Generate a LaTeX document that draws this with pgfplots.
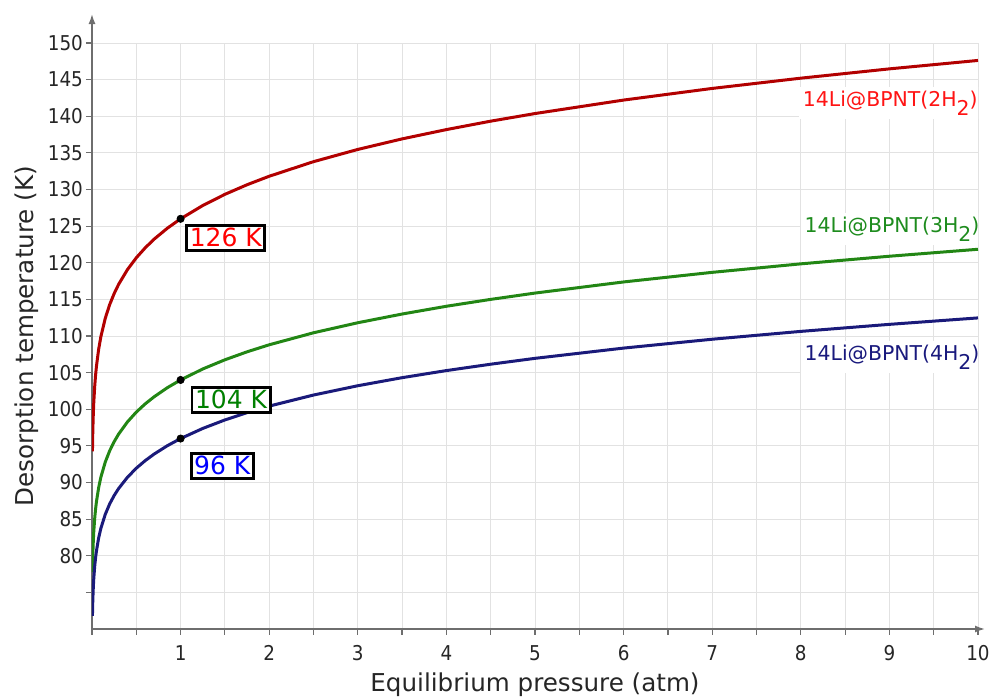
\documentclass[border=0pt]{standalone}
\usepackage{pgfplots}
\pgfplotsset{compat=1.18}
\usepackage{pgfplotstable}
\usepackage{fontspec}
\setmainfont{DejaVu Sans}
\newfontfamily\tickfont{DejaVu Sans}[FakeStretch=0.9]
\usetikzlibrary{arrows.meta}

\definecolor{curvered}{RGB}{178,0,0}
\definecolor{curvegreen}{RGB}{34,134,20}
\definecolor{curveblue}{RGB}{26,26,122}
\definecolor{lblred}{RGB}{255,20,20}
\definecolor{lblgreen}{RGB}{30,140,30}
\definecolor{lblblue}{RGB}{25,25,125}
\definecolor{gridgray}{RGB}{226,226,226}
\definecolor{axisgray}{RGB}{110,110,110}

% lowered full-size subscript digit
\newcommand{\low}[1]{\raisebox{-0.42em}{#1}}

% desorption temperature (K) vs equilibrium pressure (atm)
\pgfplotstableread{
P       Ttwo    Tthree  Tfour
0.005   94.24   77.79   71.80
0.0075  96.10   79.32   73.22
0.01    97.46   80.44   74.25
0.015   99.44   82.08   75.76
0.02    100.90  83.28   76.87
0.03    103.02  85.04   78.49
0.04    104.59  86.33   79.69
0.05    105.84  87.36   80.64
0.075   108.18  89.29   82.42
0.1     109.90  90.72   83.74
0.15    112.43  92.80   85.66
0.2     114.30  94.34   87.09
0.25    115.79  95.57   88.22
0.3     117.04  96.60   89.17
0.4     119.06  98.27   90.71
0.5     120.68  99.61   91.95
0.6     122.03  100.73  92.98
0.7     123.21  101.69  93.87
0.85    124.71  102.94  95.02
1       126.00  104.00  96.00
1.25    127.81  105.50  97.38
1.5     129.34  106.75  98.54
1.75    130.65  107.84  99.54
2       131.81  108.80  100.43
2.5     133.80  110.44  101.94
3       135.47  111.81  103.21
3.5     136.91  113.00  104.31
4       138.18  114.06  105.28
4.5     139.33  115.00  106.15
5       140.37  115.86  106.95
6       142.21  117.38  108.35
7       143.80  118.69  109.56
8       145.20  119.85  110.63
9       146.47  120.89  111.59
10      147.62  121.84  112.47
}\desorption

\begin{document}
\begin{tikzpicture}
\path[use as bounding box] (-46pt,-34pt) rectangle (453pt,314.5pt);
\begin{axis}[
  at={(0,0)}, anchor=south west,
  scale only axis, width=443pt, height=293pt,
  xmin=0, xmax=10, ymin=70, ymax=150,
  axis lines=left,
  axis line style={axisgray, line width=0.8pt, -{Latex[length=5pt,width=3.5pt]}},
  x axis line style={shorten >=-3.5pt},
  y axis line style={shorten >=-14.5pt},
  xtick={1,...,10},
  minor xtick={0,0.5,...,10},
  ytick={75,80,...,150},
  yticklabels={{},80,85,90,95,100,105,110,115,120,125,130,135,140,145,150},
  grid=both,
  major grid style={gridgray, line width=0.5pt},
  minor grid style={gridgray, line width=0.5pt},
  tick align=outside,
  major tick length=3pt, minor tick length=3pt,
  tick style={axisgray, line width=0.6pt},
  ticklabel style={font=\tickfont\fontsize{10.2}{12}\selectfont, text=black!85},
  xticklabel style={yshift=-1.8pt},
  yticklabel style={xshift=2pt},
  /pgf/number format/assume math mode=true,
  xlabel={Equilibrium pressure (atm)},
  ylabel={Desorption temperature (K)},
  label style={font=\fontsize{12.3}{14}\selectfont, text=black!85},
  xlabel style={at={(axis description cs:0.5,-0.095)}, anchor=center},
  ylabel style={at={(axis description cs:-0.074,0.5)}, anchor=center},
]
\addplot[curvered, line width=1.5pt, line join=round] table[x=P, y=Ttwo] {\desorption};
\addplot[curvegreen, line width=1.5pt, line join=round] table[x=P, y=Tthree] {\desorption};
\addplot[curveblue, line width=1.5pt, line join=round] table[x=P, y=Tfour] {\desorption};

% temperatures at 1 atm
\addplot[only marks, mark=*, mark size=1.8pt, black] coordinates {(1,126) (1,104) (1,96)};

\node[draw=black, line width=1.4pt, fill=white, text=red, inner sep=1.5pt,
      font=\fontsize{12.5}{14}\selectfont] at (axis cs:1.51,123.4) {126 K};
\node[draw=black, line width=1.4pt, fill=white, text=green!50!black, inner sep=1.5pt,
      font=\fontsize{12.5}{14}\selectfont] at (axis cs:1.57,101.3) {104 K};
\node[draw=black, line width=1.4pt, fill=white, text=blue, inner sep=1.5pt,
      font=\fontsize{12.5}{14}\selectfont] at (axis cs:1.47,92.3) {96 K};

\node[fill=white, text=lblred, inner sep=2pt, font=\fontsize{10.2}{12}\selectfont]
  at (axis cs:9.01,141.8) {14Li@BPNT(2H\low{2})};
\node[fill=white, text=lblgreen, inner sep=2pt, font=\fontsize{10.2}{12}\selectfont]
  at (axis cs:9.03,124.6) {14Li@BPNT(3H\low{2})};
\node[fill=white, text=lblblue, inner sep=2pt, font=\fontsize{10.2}{12}\selectfont]
  at (axis cs:9.03,107.1) {14Li@BPNT(4H\low{2})};
\end{axis}
\end{tikzpicture}
\end{document}
